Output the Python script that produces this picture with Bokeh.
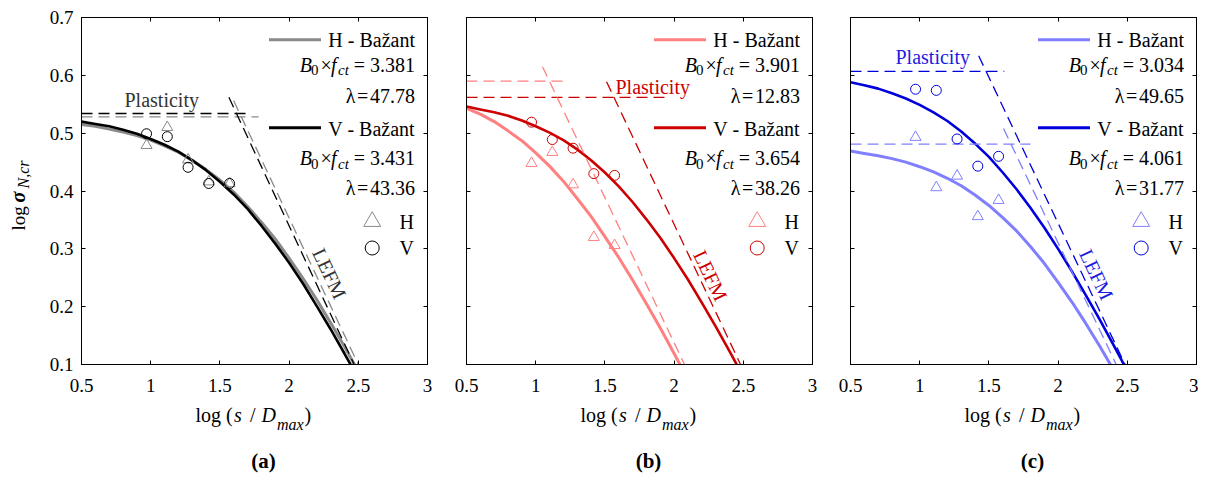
import math
from bokeh.plotting import figure
from bokeh.models import Range1d, LinearAxis, FixedTicker, NumeralTickFormatter, CustomJSTickFormatter, Label
from bokeh.layouts import row, column
from bokeh.embed import file_html
from bokeh.resources import INLINE

# ---------------- data ----------------
x_ticks = [0.5, 1, 1.5, 2, 2.5, 3]
y_ticks = [0.1, 0.2, 0.3, 0.4, 0.5, 0.6, 0.7]
panel_tags = ["(a)", "(b)", "(c)"]

# Bazant fit curves (log sigma vs log(s/Dmax))
curve_x = [0.5, 0.6, 0.7, 0.8, 0.9, 1.0, 1.1, 1.2, 1.3, 1.4, 1.5,
           1.6, 1.7, 1.8, 1.9, 2.0, 2.1, 2.2, 2.3, 2.4, 2.5]
a_h_curve = [0.515, 0.512, 0.507, 0.502, 0.496, 0.488, 0.478, 0.467, 0.453, 0.437, 0.419,
             0.398, 0.373, 0.346, 0.317, 0.284, 0.249, 0.212, 0.172, 0.131, 0.088]
a_v_curve = [0.520, 0.516, 0.512, 0.506, 0.499, 0.490, 0.480, 0.468, 0.453, 0.436, 0.416,
             0.394, 0.369, 0.340, 0.309, 0.276, 0.240, 0.201, 0.161, 0.119, 0.076]
b_h_curve = [0.543, 0.533, 0.520, 0.504, 0.487, 0.466, 0.443, 0.417, 0.387, 0.356, 0.321,
             0.285, 0.246, 0.205, 0.163, 0.119, 0.074]
b_v_curve = [0.546, 0.541, 0.536, 0.530, 0.522, 0.512, 0.501, 0.488, 0.472, 0.453, 0.432,
             0.408, 0.381, 0.351, 0.319, 0.284, 0.247, 0.207, 0.166, 0.123, 0.079]
c_h_curve = [0.469, 0.465, 0.461, 0.456, 0.450, 0.442, 0.433, 0.422, 0.409, 0.393, 0.375,
             0.354, 0.331, 0.304, 0.275, 0.242, 0.208, 0.171, 0.132, 0.091]
c_v_curve = [0.588, 0.583, 0.577, 0.569, 0.560, 0.549, 0.536, 0.521, 0.503, 0.482, 0.459,
             0.432, 0.403, 0.371, 0.337, 0.300, 0.261, 0.220, 0.178, 0.134, 0.089]

# test results
spec_x = [0.97, 1.12, 1.27, 1.42, 1.57]
a_h_pts = [0.479, 0.510, 0.454, 0.416, 0.413]
a_v_pts = [0.499, 0.494, 0.441, 0.413, 0.413]
b_h_pts = [0.448, 0.467, 0.411, 0.320, 0.306]
b_v_pts = [0.519, 0.489, 0.474, 0.430, 0.427]
c_h_pts = [0.493, 0.406, 0.426, 0.356, 0.384]
c_v_pts = [0.576, 0.574, 0.490, 0.443, 0.460]

# plasticity limits
a_h_plast_x = [0.5, 1.78]; a_h_plast_y = [0.528, 0.528]
a_v_plast_x = [0.5, 1.70]; a_v_plast_y = [0.534, 0.534]
b_h_plast_x = [0.5, 1.205]; b_h_plast_y = [0.590, 0.590]
b_v_plast_x = [0.5, 1.973]; b_v_plast_y = [0.562, 0.562]
c_h_plast_x = [0.5, 1.80]; c_h_plast_y = [0.481, 0.481]
c_v_plast_x = [0.5, 1.611]; c_v_plast_y = [0.607, 0.607]

# LEFM asymptotes
a_h_lefm_x = [1.60, 2.50]; a_h_lefm_y = [0.556, 0.10]
a_v_lefm_x = [1.565, 2.47]; a_v_lefm_y = [0.562, 0.10]
b_h_lefm_x = [1.049, 2.075]; b_h_lefm_y = [0.615, 0.10]
b_v_lefm_x = [1.512, 2.48]; b_v_lefm_y = [0.589, 0.10]
c_h_lefm_x = [1.606, 2.42]; c_h_lefm_y = [0.508, 0.10]
c_v_lefm_x = [1.426, 2.484]; c_v_lefm_y = [0.634, 0.10]

# fitted parameters shown in the legends
h_B0fct = [3.381, 3.901, 3.034]
h_lambda = [47.78, 12.83, 49.65]
v_B0fct = [3.431, 3.654, 4.061]
v_lambda = [43.36, 38.26, 31.77]

# ---------------- style / layout ----------------
FONT = "Liberation Serif"
FW, FH = 346, 347
X0, X1, Y0, Y1 = 0.5, 3.0, 0.1, 0.7
TOP_B, BOT_B = 17, 37
MAIN_H = TOP_B + FH + BOT_B          # 401
AUX_H = 476 - MAIN_H                 # bottom strip height
YLAB_W = 40
MID = 0.32                           # baseline -> middle offset (fraction of font size)
LEFM_ANGLE = -math.atan((FH / (Y1 - Y0)) * 0.5 / (FW / (X1 - X0)))

panels = [
    dict(h_curve=a_h_curve, v_curve=a_v_curve, h_pts=a_h_pts, v_pts=a_v_pts,
         h_plast=(a_h_plast_x, a_h_plast_y), v_plast=(a_v_plast_x, a_v_plast_y),
         h_lefm=(a_h_lefm_x, a_h_lefm_y), v_lefm=(a_v_lefm_x, a_v_lefm_y),
         hc="#8a8a8a", vc="#000000", tc="#333333",
         plast_pos=(43, 89), lefm_pos=(248, 256), border=(81 - YLAB_W, 19),
         strip=(0, 81, 446), show_y=True),
    dict(h_curve=b_h_curve, v_curve=b_v_curve, h_pts=b_h_pts, v_pts=b_v_pts,
         h_plast=(b_h_plast_x, b_h_plast_y), v_plast=(b_v_plast_x, b_v_plast_y),
         h_lefm=(b_h_lefm_x, b_h_lefm_y), v_lefm=(b_v_lefm_x, b_v_lefm_y),
         hc="#ff8080", vc="#cc0000", tc="#cc0000",
         plast_pos=(149, 76), lefm_pos=(244, 258), border=(20, 18),
         strip=(446, 466, 384), show_y=False),
    dict(h_curve=c_h_curve, v_curve=c_v_curve, h_pts=c_h_pts, v_pts=c_v_pts,
         h_plast=(c_h_plast_x, c_h_plast_y), v_plast=(c_v_plast_x, c_v_plast_y),
         h_lefm=(c_h_lefm_x, c_h_lefm_y), v_lefm=(c_v_lefm_x, c_v_lefm_y),
         hc="#8080ff", vc="#0000dd", tc="#1c1ce0",
         plast_pos=(45, 46), lefm_pos=(246, 257), border=(20, 2),
         strip=(830, 850, 368), show_y=False),
]


def dx(px):
    return X0 + px * (X1 - X0) / FW


def dy(py):
    return Y1 - py * (Y1 - Y0) / FH


def ident(v):
    return v


def text_at(p, px, py, text, size=20, style="normal", color="black", align="left",
            angle=0.0, mapx=dx, mapy=dy, on_baseline=True):
    """Place text; (px, py) is the baseline point in pixel space (y down)."""
    if on_baseline:
        if abs(angle) < 1e-9:
            py = py - MID * size
        else:  # rotated 90 deg counter-clockwise: 'up' in the text is screen-left
            px = px - MID * size
    p.add_layout(Label(x=mapx(px), y=mapy(py), text=text, text_font=FONT,
                       text_font_size=f"{size}px", text_font_style=style,
                       text_color=color, text_align=align, text_baseline="middle",
                       angle=angle))


def blank_fig(width, height, xr, yr):
    f = figure(title=None, width=width, height=height,
               x_range=Range1d(*xr), y_range=Range1d(*yr),
               min_border=0, min_border_left=0, min_border_right=0,
               min_border_top=0, min_border_bottom=0,
               x_axis_location=None, y_axis_location=None,
               output_backend="svg", toolbar_location=None,
               background_fill_color="white", border_fill_color="white")
    f.grid.visible = False
    f.outline_line_color = None
    return f


def b0fct_row(p, base, value):
    text_at(p, 218.3, base, "B", style="italic")
    text_at(p, 229.5, base + 4, "0", size=15)
    text_at(p, 239, base, "\u00d7")
    text_at(p, 249.5, base, "f", style="italic")
    text_at(p, 256.5, base + 4, "ct", size=15, style="italic")
    text_at(p, 333.5, base, f"= {value:.3f}", align="right")


def make_panel(i, cfg):
    left_b, right_b = cfg["border"]
    p = figure(title=None, frame_width=FW, frame_height=FH,
               x_range=Range1d(X0, X1), y_range=Range1d(Y0, Y1),
               min_border_left=left_b, min_border_right=right_b,
               min_border_top=TOP_B, min_border_bottom=BOT_B,
               x_axis_location=None, y_axis_location=None,
               output_backend="svg", toolbar_location=None,
               background_fill_color="white", border_fill_color="white")
    p.grid.visible = False
    p.outline_line_color = "black"
    p.outline_line_width = 1

    for side in ["below", "left", "above", "right"]:
        ticks = x_ticks if side in ("below", "above") else y_ticks
        ax = LinearAxis(ticker=FixedTicker(ticks=ticks))
        ax.major_tick_in = 4
        ax.major_tick_out = 0
        ax.minor_tick_in = 0
        ax.minor_tick_out = 0
        ax.axis_line_color = "black"
        ax.axis_line_width = 1
        ax.major_tick_line_color = "black"
        ax.major_label_text_font = FONT
        ax.major_label_text_color = "black"
        if side == "below":
            ax.formatter = NumeralTickFormatter(format="0.[0]")
            ax.major_label_text_font_size = "19px"
            ax.major_label_standoff = 14
        elif side == "left" and cfg["show_y"]:
            ax.formatter = NumeralTickFormatter(format="0.0")
            ax.major_label_text_font_size = "19px"
            ax.major_label_standoff = 8
        else:
            ax.formatter = CustomJSTickFormatter(code="return ''")
            ax.major_label_text_font_size = "0px"
            ax.major_label_standoff = 0
        p.add_layout(ax, side)

    hc, vc, tc = cfg["hc"], cfg["vc"], cfg["tc"]
    hy, vy = cfg["h_curve"], cfg["v_curve"]
    p.line(curve_x[:len(hy)], hy, line_color=hc, line_width=3)
    p.line(curve_x[:len(vy)], vy, line_color=vc, line_width=2.6)
    for (xs, ys), col in [(cfg["h_plast"], hc), (cfg["v_plast"], vc),
                          (cfg["h_lefm"], hc), (cfg["v_lefm"], vc)]:
        p.line(xs, ys, line_color=col, line_width=1.3, line_dash="11 6")
    p.scatter(spec_x, cfg["h_pts"], marker="triangle", size=11,
              fill_color=None, line_color=hc, line_width=1)
    p.scatter(spec_x, cfg["v_pts"], marker="circle", size=10,
              fill_color=None, line_color=vc, line_width=1)

    px, py = cfg["plast_pos"]
    text_at(p, px, py, "Plasticity", color=tc)
    lx, ly = cfg["lefm_pos"]
    p.add_layout(Label(x=dx(lx), y=dy(ly), text="LEFM", text_font=FONT, text_font_size="20px",
                       text_color=tc, text_align="center", text_baseline="middle",
                       angle=LEFM_ANGLE))

    # legend block
    p.line([dx(187.5), dx(239.5)], [dy(22.3), dy(22.3)], line_color=hc, line_width=3)
    text_at(p, 333.5, 28.5, "H - Ba\u017eant", align="right")
    b0fct_row(p, 53.5, h_B0fct[i])
    text_at(p, 333.5, 85, f"\u03bb\u200a=\u200a{h_lambda[i]:.2f}", align="right")
    p.line([dx(187.5), dx(239.5)], [dy(110.3), dy(110.3)], line_color=vc, line_width=3)
    text_at(p, 333.5, 117.5, "V - Ba\u017eant", align="right")
    b0fct_row(p, 147, v_B0fct[i])
    text_at(p, 333.5, 177, f"\u03bb\u200a=\u200a{v_lambda[i]:.2f}", align="right")
    p.scatter([dx(290.7)], [dy(204)], marker="triangle", size=17,
              fill_color=None, line_color=hc, line_width=1)
    text_at(p, 318, 211, "H")
    p.scatter([dx(290.7)], [dy(230.5)], marker="circle", size=14,
              fill_color=None, line_color=vc, line_width=1)
    text_at(p, 318, 237, "V")
    return p


def make_strip(i, cfg):
    fig_left, frame_left, width = cfg["strip"]
    off = fig_left - frame_left
    top_rel = MAIN_H - TOP_B
    s = blank_fig(width, AUX_H, (off, off + width), (top_rel + AUX_H, top_rel))
    kw = dict(mapx=ident, mapy=ident)
    # x axis title: log (s / D_max)
    text_at(s, 114, 404, "log (", **kw)
    text_at(s, 152.5, 404, "s", style="italic", **kw)
    text_at(s, 168.5, 404, "/", **kw)
    text_at(s, 180, 404, "D", style="italic", **kw)
    text_at(s, 195.5, 412, "max", size=16, style="italic", **kw)
    text_at(s, 223, 404, ")", **kw)
    text_at(s, 182, 450, panel_tags[i], size=21, style="bold", align="center", **kw)
    return s


# y axis title strip (its frame is aligned with the panel frames: rows 17..364)
ylab = blank_fig(YLAB_W, MAIN_H, (0, YLAB_W), (TOP_B + FH, TOP_B))
a90 = math.pi / 2
ykw = dict(mapx=ident, mapy=ident, angle=a90)
text_at(ylab, 24, 230, "log", size=19, **ykw)
text_at(ylab, 24, 202, "\u03c3", size=20, style="bold italic", **ykw)
text_at(ylab, 28, 188, "N,cr", size=16, style="italic", **ykw)

figs = [make_panel(i, cfg) for i, cfg in enumerate(panels)]
strips = [make_strip(i, cfg) for i, cfg in enumerate(panels)]
layout = column(row(ylab, *figs), row(*strips))
open("out.html", "w").write(file_html(layout, INLINE))
